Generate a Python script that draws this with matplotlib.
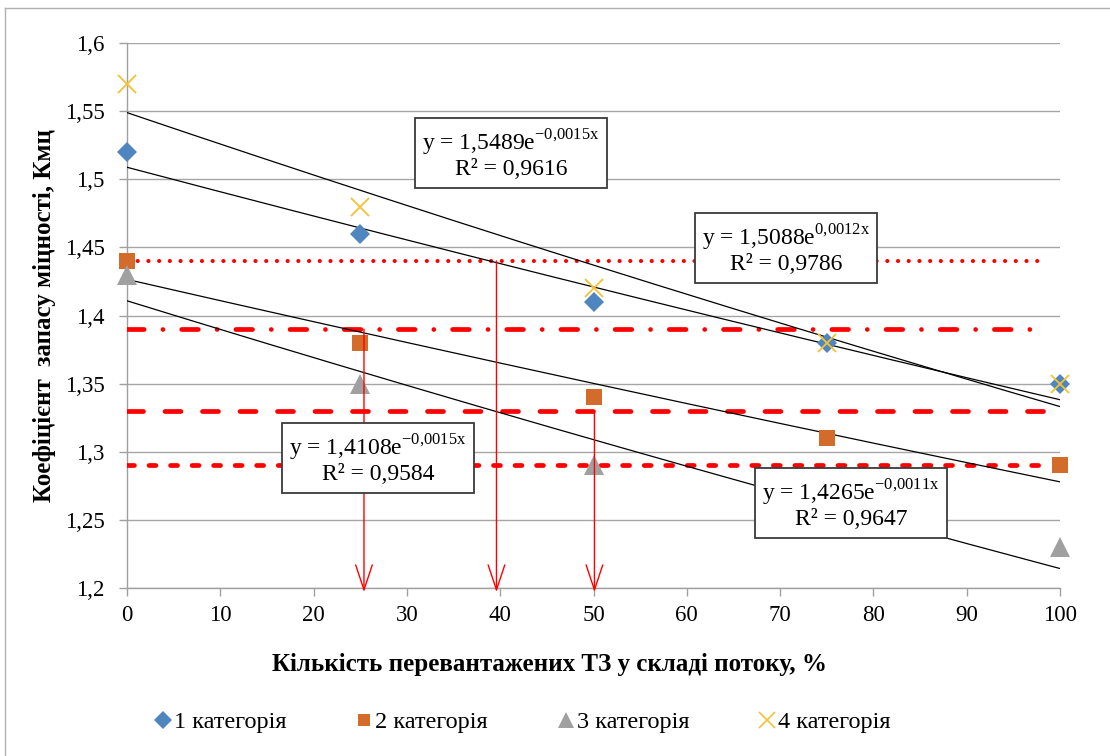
import numpy as np
import matplotlib
matplotlib.use("Agg")
from matplotlib import pyplot as plt
from matplotlib.lines import Line2D

plt.rcParams['font.family'] = ['Liberation Serif', 'DejaVu Serif']
plt.rcParams['mathtext.fontset'] = 'custom'
plt.rcParams['mathtext.rm'] = 'Liberation Serif'
plt.rcParams['lines.scale_dashes'] = False

# data
x = [0, 25, 50, 75, 100]
cat1 = [1.52, 1.46, 1.41, 1.38, 1.35]
cat2 = [1.44, 1.38, 1.34, 1.31, 1.29]
cat3 = [1.43, 1.35, 1.29, 1.26, 1.23]
cat4 = [1.57, 1.48, 1.42, 1.38, 1.35]
series_names = ['1 категорія', '2 категорія', '3 категорія', '4 категорія']

# exponential trend lines y = a*exp(b*x) as printed on the chart
trend_a = [1.5088, 1.4265, 1.4108, 1.5489]
trend_b = [-0.0012, -0.0011, -0.0015, -0.0015]
trend_text = ['y = 1,5088e$^{\\mathregular{0{,}0012x}}$\nR² = 0,9786',
              'y = 1,4265e$^{\\mathregular{-0{,}0011x}}$\nR² = 0,9647',
              'y = 1,4108e$^{\\mathregular{-0{,}0015x}}$\nR² = 0,9584',
              'y = 1,5489e$^{\\mathregular{-0{,}0015x}}$\nR² = 0,9616']

# threshold levels and the readings taken from them
levels = [1.44, 1.39, 1.33, 1.29]
arrow_x = [25.4, 39.6, 50.1]
arrow_from = [1.39, 1.44, 1.33]

colors = ['#4F86C0', '#D36C2A', '#A0A0A0', '#F2C232']
markers = ['D', 's', '^', 'x']
msizes = [10, 12, 14.5, 13]

fig = plt.figure(figsize=(11.1, 7.56), dpi=100)
ax = fig.add_axes([127/1110, 1-588/756, 933/1110, 545/756])

# frame of the chart area (only top and left are inside the picture)
fig.add_artist(Line2D([5/1110, 1.2], [1-8/756, 1-8/756], transform=fig.transFigure, color='#B0B0B0', lw=1))
fig.add_artist(Line2D([5/1110, 5/1110], [1-8/756, -0.2], transform=fig.transFigure, color='#B0B0B0', lw=1))

# red reference lines
styles = [(0, (0.01, 7.7)), (0, (12, 13.5, 0.01, 13.5)), (0, (11.5, 15.5)), (0, (5, 10.5))]
lws = [3.0, 3.4, 3.4, 3.4]
for lev, ls, lw in zip(levels, styles, lws):
    ax.plot([0, 98.6], [lev, lev], color='#FF0000', lw=lw, linestyle=ls,
            dash_capstyle='round', solid_capstyle='round', zorder=3)

# trend lines
xx = np.linspace(0, 100, 200)
for a, b in zip(trend_a, trend_b):
    ax.plot(xx, a*np.exp(b*xx), color='black', lw=0.9, zorder=4)

# scatter points
data = [cat1, cat2, cat3, cat4]
for ys, c, m, ms, name in zip(data, colors, markers, msizes, series_names):
    if m == 'x':
        ax.plot(x, ys, linestyle='none', marker=m, ms=ms, mew=1.3, color=c, zorder=5, clip_on=False)
    else:
        ax.plot(x, ys, linestyle='none', marker=m, ms=ms, mew=0, color=c, zorder=5, clip_on=False)

# arrows
for ax_x, y0 in zip(arrow_x, arrow_from):
    ax.annotate('', xy=(ax_x, 1.197), xytext=(ax_x, y0),
                arrowprops=dict(arrowstyle='->,head_length=1.8,head_width=0.6', color='#FF0000',
                                lw=1, shrinkA=0, shrinkB=0, mutation_scale=10),
                annotation_clip=False, zorder=6)

# equation boxes (pixel centres in the figure)
box_pos = [(786, 249), (851, 504), (378, 459), (511, 154)]
for (px, py), t in zip(box_pos, trend_text):
    fig.text(px/1110, 1-py/756, t, ha='center', va='center', fontsize=17, linespacing=1.1,
             multialignment='center', zorder=10,
             bbox=dict(boxstyle='square,pad=0.3', fc='white', ec='#3A3A3A', lw=1.3))

ax.set_xlim(0, 100)
ax.set_ylim(1.2, 1.6)
ax.set_xticks(np.arange(0, 101, 10))
ax.set_yticks(np.arange(1.2, 1.601, 0.05))
ax.set_yticklabels([('%g' % v).replace('.', ',') for v in np.round(np.arange(1.2, 1.601, 0.05), 2)])
ax.grid(axis='y', color='#A6A6A6', lw=1)
ax.set_axisbelow(True)
for s in ['top', 'right']:
    ax.spines[s].set_visible(False)
for s in ['left', 'bottom']:
    ax.spines[s].set_color('#A0A0A0')
    ax.spines[s].set_linewidth(1)
ax.tick_params(axis='both', colors='#A0A0A0', labelcolor='black', labelsize=16.5, length=6, width=1)
ax.tick_params(axis='y', pad=10)
ax.tick_params(axis='x', pad=6)

fig.text(550/1110, 1-665/756, 'Кількість перевантажених ТЗ у складі потоку, %',
         ha='center', va='center', fontsize=18, fontweight='bold')
fig.text(45/1110, 1-316/756, 'Коефіцієнт  запасу міцності, Кмц', rotation=90,
         ha='center', va='center', fontsize=18, fontweight='bold')

handles = []
for c, m, name in zip(colors, markers, series_names):
    if m == 'x':
        handles.append(Line2D([], [], linestyle='none', marker=m, ms=12, mew=1.2, color=c, label=name))
    elif m == '^':
        handles.append(Line2D([], [], linestyle='none', marker=m, ms=11, mew=0, color=c, label=name))
    else:
        handles.append(Line2D([], [], linestyle='none', marker=m, ms=9, mew=0, color=c, label=name))
fig.legend(handles=handles, loc='center', bbox_to_anchor=(523/1110, 1-722/756), ncol=4,
           frameon=False, fontsize=17.5, handlelength=0.6, handletextpad=0.15, columnspacing=2.9)

fig.savefig('out.png', dpi=100)
